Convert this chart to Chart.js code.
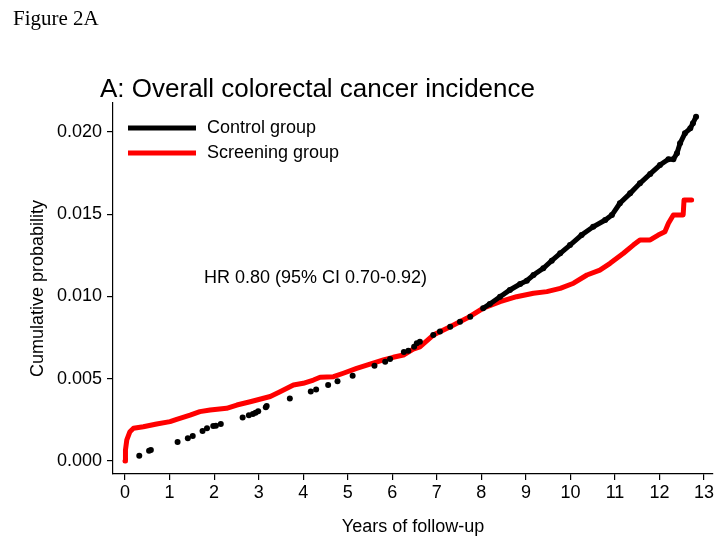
<!DOCTYPE html>
<html>
<head>
<meta charset="utf-8">
<title>Figure 2A</title>
<script src="https://cdn.jsdelivr.net/npm/chart.js@4.4.1/dist/chart.umd.min.js"></script>
<style>
  html, body { margin: 0; padding: 0; background: #fff; }
  #wrap { width: 722px; height: 549px; position: relative; }
</style>
</head>
<body>
<div id="wrap"><canvas id="kmChart"></canvas></div>
<script>
// cumulative probability (years of follow-up, probability)
var controlYears = [0.32, 0.54, 0.58, 1.18, 1.41, 1.52, 1.74, 1.84, 1.98, 2.04, 2.15, 2.64, 2.78, 2.87, 2.93, 2.99,
  3.16, 3.18, 3.70, 4.17, 4.29, 4.56, 4.77, 5.11, 5.60, 5.84, 5.95, 6.26, 6.36, 6.49, 6.55, 6.62, 6.92, 7.07,
  7.30, 7.52, 7.75, 8.04, 8.19, 8.42, 8.64, 8.87, 9.02, 9.17, 9.39, 9.58, 9.77, 9.99, 10.25, 10.51, 10.78,
  10.93, 11.11, 11.34, 11.56, 11.79, 12.01, 12.20, 12.31, 12.39, 12.46, 12.57, 12.69, 12.75, 12.82];
var controlProb = [0.00032, 0.00063, 0.00067, 0.00115, 0.00138, 0.00152, 0.00182, 0.00199, 0.00213, 0.00214,
  0.00225, 0.00265, 0.00278, 0.00286, 0.00293, 0.00302, 0.00326, 0.00334, 0.00379, 0.00422, 0.00434, 0.00462,
  0.00485, 0.00518, 0.00579, 0.00603, 0.00620, 0.00662, 0.00670, 0.00694, 0.00715, 0.00725, 0.00765, 0.00786,
  0.00816, 0.00846, 0.00877, 0.00928, 0.00954, 0.00998, 0.01039, 0.01075, 0.01095, 0.01130, 0.01171, 0.01217,
  0.01262, 0.01312, 0.01373, 0.01423, 0.01464, 0.01494, 0.01566, 0.01626, 0.01687, 0.01744, 0.01798, 0.01833,
  0.01833, 0.01869, 0.01930, 0.01991, 0.02021, 0.02052, 0.02092];

var screenYears = [0.00, 0.01, 0.04, 0.11, 0.19, 0.41, 0.71, 1.01, 1.16, 1.46, 1.68, 1.91, 2.28, 2.51, 2.81,
  3.11, 3.26, 3.48, 3.78, 4.00, 4.23, 4.38, 4.68, 4.90, 5.20, 5.50, 5.80, 6.02, 6.25, 6.47, 6.62, 6.92, 7.30,
  7.67, 8.04, 8.42, 8.79, 9.17, 9.47, 9.77, 10.07, 10.37, 10.66, 10.89, 11.19, 11.41, 11.56, 11.79, 11.97,
  12.12, 12.20, 12.31, 12.53, 12.55, 12.72];
var screenProb = [0.00000, 0.00067, 0.00128, 0.00178, 0.00199, 0.00208, 0.00225, 0.00239, 0.00253, 0.00279,
  0.00300, 0.00310, 0.00320, 0.00340, 0.00360, 0.00381, 0.00392, 0.00421, 0.00462, 0.00472, 0.00492, 0.00509,
  0.00512, 0.00533, 0.00563, 0.00589, 0.00614, 0.00630, 0.00644, 0.00680, 0.00694, 0.00765, 0.00816, 0.00867,
  0.00928, 0.00968, 0.00998, 0.01019, 0.01029, 0.01049, 0.01080, 0.01130, 0.01160, 0.01201, 0.01262, 0.01312,
  0.01343, 0.01343, 0.01373, 0.01393, 0.01444, 0.01495, 0.01495, 0.01586, 0.01586];

var seriesNames = ["Control group", "Screening group"];
var xTicks = [0, 1, 2, 3, 4, 5, 6, 7, 8, 9, 10, 11, 12, 13];
var yTicks = [0, 0.005, 0.010, 0.015, 0.020];

function toPoints(xs, ys) {
  return xs.map(function (x, i) { return { x: x, y: ys[i] }; });
}

Chart.defaults.font.family = "'Liberation Sans', Arial, Helvetica, sans-serif";
Chart.defaults.color = "#000";

// texts that sit outside the axes: figure label, title, legend, HR note
var textPlugin = {
  id: "figText",
  afterDraw: function (chart) {
    var ctx = chart.ctx;
    ctx.save();
    ctx.fillStyle = "#000";
    ctx.textBaseline = "alphabetic";
    ctx.textAlign = "left";
    ctx.font = "21px 'Liberation Serif', 'DejaVu Serif', serif";
    ctx.fillText("Figure 2A", 13, 25);
    ctx.font = "26px 'Liberation Sans', Arial, sans-serif";
    ctx.fillText("A: Overall colorectal cancer incidence", 100, 97);

    ctx.font = "18px 'Liberation Sans', Arial, sans-serif";
    ctx.textBaseline = "middle";
    chart.data.datasets.forEach(function (ds, i) {
      var y = 128 + i * 25;
      ctx.strokeStyle = ds.borderColor;
      ctx.lineWidth = 5;
      ctx.beginPath();
      ctx.moveTo(128, y);
      ctx.lineTo(196, y);
      ctx.stroke();
      ctx.fillText(ds.label, 207, y);
    });
    ctx.fillText("HR 0.80 (95% CI 0.70-0.92)", 204, 278);
    ctx.restore();
  }
};

var kmChart = new Chart(document.getElementById("kmChart"), {
  type: "scatter",
  data: {
    datasets: [
      {
        label: seriesNames[0],
        data: toPoints(controlYears, controlProb),
        borderColor: "#000",
        backgroundColor: "#000",
        showLine: true,
        borderWidth: 5,
        pointRadius: 3,
        pointBorderWidth: 0,
        segment: {
          // early events stay as separate dots; later dense events merge into dashes
          borderColor: function (c) {
            var gap = c.p1.parsed.x - c.p0.parsed.x;
            return (c.p0.parsed.x < 7.9 || gap > 0.29) ? "rgba(0,0,0,0)" : undefined;
          }
        }
      },
      {
        label: seriesNames[1],
        data: toPoints(screenYears, screenProb),
        borderColor: "#ff0000",
        backgroundColor: "#ff0000",
        showLine: true,
        borderWidth: 5,
        borderCapStyle: "round",
        borderJoinStyle: "round",
        pointRadius: 0
      }
    ]
  },
  options: {
    responsive: true,
    maintainAspectRatio: false,
    animation: false,
    devicePixelRatio: 1,
    layout: { padding: { top: 103, right: 9, left: 0, bottom: 0 } },
    plugins: {
      legend: { display: false },
      tooltip: { enabled: false }
    },
    scales: {
      x: {
        type: "linear",
        min: -0.27,
        max: 13.2,
        afterFit: function (s) { s.height = 75; },
        afterBuildTicks: function (s) { s.ticks = xTicks.map(function (v) { return { value: v }; }); },
        ticks: { font: { size: 18 }, padding: 2, maxRotation: 0, autoSkip: false },
        grid: { drawOnChartArea: false, drawTicks: true, tickLength: 6, color: "#000", lineWidth: 1.2 },
        border: { display: true, color: "#000", width: 1.2 },
        title: { display: true, text: "Years of follow-up", font: { size: 18 }, padding: { top: 0, bottom: 11 } }
      },
      y: {
        type: "linear",
        min: -0.00079,
        max: 0.02175,
        afterFit: function (s) { s.width = 113; },
        afterBuildTicks: function (s) { s.ticks = yTicks.map(function (v) { return { value: v }; }); },
        ticks: {
          font: { size: 18 },
          padding: 5,
          callback: function (v) { return Number(v).toFixed(3); }
        },
        grid: { drawOnChartArea: false, drawTicks: true, tickLength: 6, color: "#000", lineWidth: 1.2 },
        border: { display: true, color: "#000", width: 1.2 },
        title: { display: true, text: "Cumulative probability", font: { size: 18 }, padding: { top: 27, bottom: 0 } }
      }
    }
  },
  plugins: [textPlugin]
});
</script>
</body>
</html>
